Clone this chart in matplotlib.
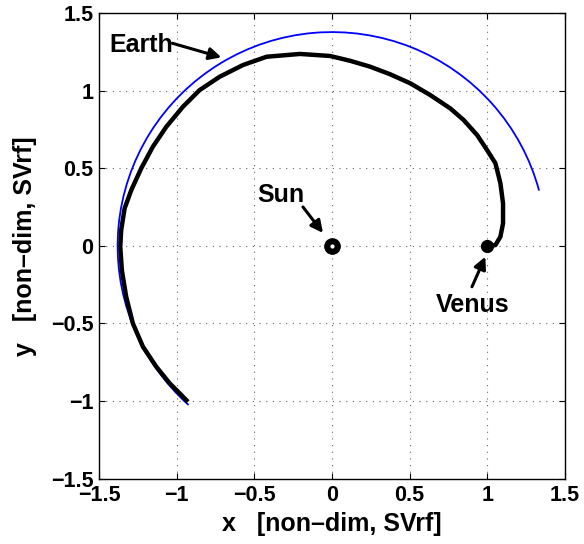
import matplotlib.pyplot as plt
from matplotlib.patches import Arc

plt.rcParams['font.family'] = ['Liberation Sans', 'DejaVu Sans']
plt.rcParams['font.weight'] = 'bold'

# Earth orbit arc (circle about the Sun)
earth_radius = 1.38
earth_theta_start = 15.0
earth_theta_end = 228.0

# transfer trajectory, Venus -> Earth
traj_x = [1.0, 1.052, 1.084, 1.101, 1.101, 1.084, 1.052, 0.998, 0.934, 0.847,
          0.761, 0.632, 0.503, 0.374, 0.245, 0.116, -0.013, -0.206, -0.421,
          -0.572, -0.723, -0.852, -0.959, -1.066, -1.153, -1.228, -1.292,
          -1.335, -1.357, -1.363, -1.353, -1.325, -1.282, -1.217, -1.131,
          -1.045, -0.927]
traj_y = [0.0, 0.006, 0.06, 0.146, 0.275, 0.405, 0.534, 0.619, 0.716, 0.813,
          0.888, 0.974, 1.05, 1.108, 1.157, 1.195, 1.226, 1.239, 1.221,
          1.168, 1.092, 1.006, 0.899, 0.77, 0.641, 0.501, 0.361,
          0.243, 0.103, -0.005, -0.155, -0.327, -0.499, -0.65, -0.779,
          -0.886, -1.005]

sun_xy = (0.0, 0.0)
venus_xy = (1.0, 0.0)

ticks = [-1.5, -1, -0.5, 0, 0.5, 1, 1.5]
tick_labels = ['\u22121.5', '\u22121', '\u22120.5', '0', '0.5', '1', '1.5']

fig = plt.figure(figsize=(5.84, 5.44), dpi=100)
ax = fig.add_axes([0.1695, 0.1204, 0.798, 0.8548])

ax.add_patch(Arc((0, 0), 2 * earth_radius, 2 * earth_radius,
                 theta1=earth_theta_start, theta2=earth_theta_end,
                 color='#0000ff', lw=1.3, zorder=3))
ax.plot(traj_x, traj_y, color='black', lw=3.2, solid_joinstyle='round',
        solid_capstyle='butt', zorder=4)

ax.plot(*sun_xy, 'o', color='black', ms=11, zorder=5)
ax.plot(*sun_xy, 'o', mfc='white', mec='white', ms=2, zorder=6)
ax.plot(*venus_xy, 'o', color='black', ms=8.5, zorder=5)

arrow = dict(arrowstyle='-|>', color='black', lw=2.2, mutation_scale=18,
             shrinkA=0, shrinkB=0)
ax.annotate('', xy=(-0.712, 1.217), xytext=(-1.028, 1.308), arrowprops=arrow)
ax.text(-1.432, 1.249, 'Earth', fontsize=18, fontweight='bold', va='baseline')
ax.annotate('', xy=(-0.058, 0.084), xytext=(-0.187, 0.252), arrowprops=arrow)
ax.text(-0.484, 0.284, 'Sun', fontsize=18, fontweight='bold', va='baseline')
ax.annotate('', xy=(0.987, -0.069), xytext=(0.901, -0.263), arrowprops=arrow)
ax.text(0.671, -0.426, 'Venus', fontsize=18, fontweight='bold', va='baseline')

ax.set_xlim(-1.5, 1.5)
ax.set_ylim(-1.5, 1.5)
ax.set_xticks(ticks)
ax.set_yticks(ticks)
ax.set_xticklabels(tick_labels, fontsize=15.5, fontweight='bold')
ax.set_yticklabels(tick_labels, fontsize=15.5, fontweight='bold')
ax.tick_params(direction='in', top=True, right=True, length=4, width=0.8)
ax.tick_params(axis='x', pad=5)
ax.tick_params(axis='y', pad=4)
ax.grid(True, linestyle=(0, (1, 5)), color='#666666', lw=0.8)
for s in ax.spines.values():
    s.set_linewidth(1.0)

ax.set_xlabel('x   [non\u2013dim, SVrf]', fontsize=18, fontweight='bold', va='center')
ax.set_ylabel('y   [non\u2013dim, SVrf]', fontsize=18, fontweight='bold', va='center')
ax.xaxis.set_label_coords(0.5, -0.098)
ax.yaxis.set_label_coords(-0.159, 0.5)

fig.savefig('out.png', dpi=100)
